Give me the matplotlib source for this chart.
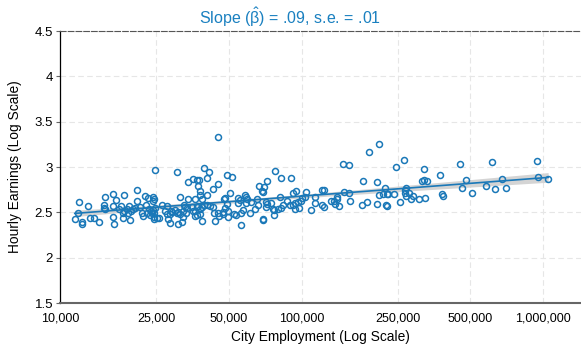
import numpy as np
import matplotlib
matplotlib.use("Agg")
import matplotlib.pyplot as plt
from matplotlib.ticker import FixedLocator, FixedFormatter, NullLocator

plt.rcParams['font.family'] = ['Liberation Sans', 'DejaVu Sans']
plt.rcParams['mathtext.fontset'] = 'custom'
plt.rcParams['mathtext.rm'] = 'Liberation Sans'
plt.rcParams['mathtext.it'] = 'Liberation Sans'

# log10 of city employment, and hourly earnings (log scale values)
log_city_employment = [
    4.653, 4.395, 4.483, 4.598, 4.616, 4.610, 4.551, 4.529, 4.566, 4.574,
    4.570, 4.653, 4.634, 4.319, 4.221, 4.188, 4.266, 4.233, 4.319, 4.351,
    4.364, 4.384, 4.390, 4.386, 4.496, 4.531, 4.559, 4.580, 4.579, 4.609,
    4.587, 4.079, 4.117, 4.182, 4.181, 4.185, 4.219, 4.253, 4.266, 4.276,
    4.284, 4.293, 4.302, 4.311, 4.243, 4.260, 4.280, 4.331, 4.355, 4.367,
    4.362, 4.377, 4.386, 4.395, 4.389, 4.344, 4.341, 4.371, 4.381, 4.390,
    4.400, 4.409, 4.388, 4.424, 4.442, 4.436, 4.442, 4.456, 4.460, 4.465,
    4.448, 4.456, 4.475, 4.483, 4.490, 4.498, 4.509, 4.513, 4.519, 4.527,
    4.508, 4.523, 4.506, 4.487, 4.545, 4.550, 4.559, 4.566, 4.573, 4.581,
    4.588, 4.595, 4.609, 4.558, 4.569, 4.580, 4.589, 4.639, 4.656, 4.658,
    4.676, 4.641, 4.621, 4.632, 4.075, 4.061, 4.092, 4.092, 4.125, 4.142,
    4.161, 4.221, 4.224, 4.260, 4.289, 4.679,
    5.320, 5.280, 5.173, 5.197, 4.890, 4.693, 4.714, 4.915, 4.958, 4.856,
    4.825, 4.845, 4.838, 4.841, 5.255, 5.314, 5.345, 4.705, 4.683, 4.736,
    4.745, 4.737, 4.766, 4.771, 4.774, 4.771, 4.791, 4.815, 4.820, 4.852,
    4.857, 4.875, 4.881, 4.912, 4.923, 4.941, 4.966, 4.976, 4.973, 4.964,
    4.954, 4.986, 4.998, 5.003, 5.016, 5.017, 5.055, 5.056, 5.085, 5.094,
    5.084, 5.093, 5.038, 4.974, 4.990, 4.916, 4.903, 4.885, 4.886, 4.852,
    4.809, 4.787, 5.122, 5.135, 5.146, 5.148, 5.140, 5.157, 5.176, 5.197,
    5.201, 5.251, 5.271, 5.314, 5.350, 5.321, 5.339, 4.690, 4.685, 4.697,
    4.697, 4.722, 4.728, 4.750, 4.758, 4.751, 4.842, 4.842, 4.675,
    5.425, 5.391, 5.655, 5.790, 5.977, 5.507, 5.574, 5.500, 5.509, 5.521,
    5.681, 5.830, 5.978, 6.021, 5.432, 5.429, 5.666, 5.763, 5.803, 5.846,
    5.353, 5.358, 5.382, 5.427, 5.444, 5.432, 5.463, 5.454, 5.487, 5.511,
    5.581, 5.585, 5.705, 5.407, 5.354,
]
hourly_earnings = [
    3.335, 2.965, 2.940, 2.991, 2.943, 2.877, 2.870, 2.830, 2.852, 2.852,
    2.793, 2.815, 2.760, 2.742, 2.701, 2.668, 2.687, 2.632, 2.629, 2.676,
    2.662, 2.673, 2.651, 2.624, 2.668, 2.643, 2.646, 2.687, 2.738, 2.695,
    2.643, 2.610, 2.574, 2.577, 2.552, 2.541, 2.574, 2.566, 2.511, 2.541,
    2.566, 2.519, 2.533, 2.544, 2.536, 2.497, 2.489, 2.563, 2.577, 2.541,
    2.497, 2.514, 2.525, 2.547, 2.497, 2.459, 2.497, 2.467, 2.489, 2.426,
    2.437, 2.434, 2.445, 2.577, 2.569, 2.519, 2.478, 2.478, 2.511, 2.508,
    2.423, 2.387, 2.522, 2.497, 2.503, 2.486, 2.511, 2.577, 2.558, 2.552,
    2.448, 2.497, 2.398, 2.368, 2.563, 2.514, 2.511, 2.563, 2.574, 2.541,
    2.563, 2.577, 2.577, 2.456, 2.475, 2.486, 2.404, 2.497, 2.489, 2.459,
    2.503, 2.404, 2.566, 2.558, 2.497, 2.431, 2.398, 2.368, 2.442, 2.442,
    2.393, 2.448, 2.376, 2.434, 2.420, 2.643,
    3.258, 3.163, 3.038, 3.024, 2.954, 2.914, 2.888, 2.881, 2.874, 2.841,
    2.793, 2.775, 2.738, 2.723, 2.848, 2.833, 2.771, 2.709, 2.662, 2.662,
    2.632, 2.607, 2.695, 2.665, 2.643, 2.607, 2.618, 2.646, 2.577, 2.613,
    2.596, 2.599, 2.541, 2.668, 2.577, 2.629, 2.709, 2.738, 2.599, 2.585,
    2.577, 2.610, 2.621, 2.654, 2.668, 2.727, 2.665, 2.602, 2.749, 2.749,
    2.577, 2.558, 2.530, 2.533, 2.544, 2.547, 2.541, 2.467, 2.525, 2.558,
    2.541, 2.497, 2.621, 2.629, 2.643, 2.673, 2.588, 2.569, 2.727, 2.712,
    2.629, 2.577, 2.613, 2.591, 2.577, 2.687, 2.705, 2.588, 2.547, 2.511,
    2.448, 2.481, 2.475, 2.497, 2.522, 2.357, 2.426, 2.412, 2.486,
    3.082, 3.002, 3.038, 3.053, 3.064, 2.973, 2.907, 2.844, 2.859, 2.841,
    2.859, 2.863, 2.885, 2.870, 2.771, 2.749, 2.771, 2.786, 2.756, 2.767,
    2.705, 2.705, 2.701, 2.709, 2.709, 2.676, 2.679, 2.643, 2.651, 2.662,
    2.698, 2.676, 2.709, 2.610, 2.574,
]

x_ticks = [10000, 25000, 50000, 100000, 250000, 500000, 1000000]
x_tick_labels = ["10,000", "25,000", "50,000", "100,000", "250,000", "500,000", "1,000,000"]
y_ticks = [1.5, 2, 2.5, 3, 3.5, 4, 4.5]
y_tick_labels = ["1.5", "2", "2.5", "3", "3.5", "4", "4.5"]
title_text = r"Slope ($\hat{\beta}$) = .09, s.e. = .01"

blue = "#1a78b8"

lx = np.array(log_city_employment)
y = np.array(hourly_earnings)
emp = 10 ** lx

# OLS fit with 95% CI
X = np.column_stack([np.ones_like(lx), lx])
beta, *_ = np.linalg.lstsq(X, y, rcond=None)
resid = y - X @ beta
n = len(y)
s2 = resid @ resid / (n - 2)
xg = np.linspace(lx.min(), lx.max(), 200)
xbar = lx.mean()
sxx = ((lx - xbar) ** 2).sum()
yhat = beta[0] + beta[1] * xg
se = np.sqrt(s2 * (1 / n + (xg - xbar) ** 2 / sxx))

fig = plt.figure(figsize=(5.81, 3.46), dpi=100)
ax = fig.add_axes([60 / 581, 43 / 346, 521 / 581, 272 / 346])
ax.set_xscale("log")
ax.set_xlim(10000, 1436000)
ax.set_ylim(1.5, 4.5)

ax.fill_between(10 ** xg, yhat - 1.96 * se, yhat + 1.96 * se, color="#d4d4d4", lw=0, zorder=2)
ax.plot(10 ** xg, yhat, color=blue, lw=1.2, zorder=3)
ax.plot(emp, y, linestyle="none", marker="o", markersize=4.3, markerfacecolor="none",
        markeredgecolor=blue, markeredgewidth=1.1, zorder=4)

ax.xaxis.set_major_locator(FixedLocator(x_ticks))
ax.xaxis.set_major_formatter(FixedFormatter(x_tick_labels))
ax.xaxis.set_minor_locator(NullLocator())
ax.yaxis.set_major_locator(FixedLocator(y_ticks))
ax.yaxis.set_major_formatter(FixedFormatter(y_tick_labels))

ax.grid(True, which="major", color="#e6e6e6", linestyle=(0, (5, 3)), linewidth=0.8, zorder=0)
ax.set_axisbelow(True)

ax.spines["right"].set_visible(False)
ax.spines["top"].set_linestyle((0, (5, 2)))
ax.spines["top"].set_color("#555555")
ax.spines["top"].set_linewidth(0.8)
ax.spines["left"].set_color("#000000")
ax.spines["left"].set_linewidth(0.9)
ax.spines["bottom"].set_color("#666666")
ax.spines["bottom"].set_linewidth(1.5)

ax.tick_params(axis="y", length=3, width=0.8, color="#666666", labelsize=9.5, pad=2)
ax.tick_params(axis="x", length=0, labelsize=9, pad=7)

ax.set_xlabel("City Employment (Log Scale)", fontsize=9.9, labelpad=4)
ax.set_ylabel("Hourly Earnings (Log Scale)", fontsize=9.9, labelpad=9)
fig.text(290.5 / 581, 1 - 17 / 346, title_text, ha="center", va="center", fontsize=11.5, color="#1a80c0")

fig.savefig("out.png", dpi=100)
